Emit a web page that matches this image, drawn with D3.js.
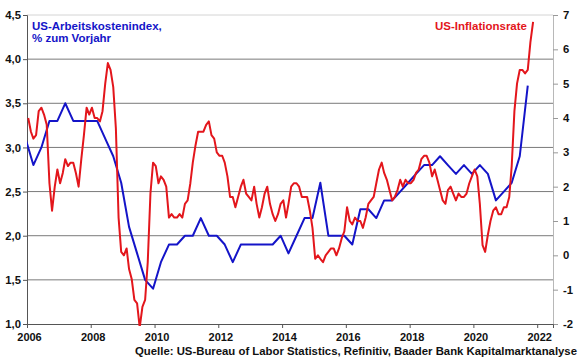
<!DOCTYPE html>
<html>
<head>
<meta charset="utf-8">
<script src="https://cdn.jsdelivr.net/npm/d3@7/dist/d3.min.js"></script>
<style>
  html, body { margin: 0; padding: 0; background: #fff; }
  svg { display: block; font-family: Arial, "Liberation Sans", sans-serif; }
</style>
</head>
<body>
<svg id="chart" width="580" height="359"></svg>
<script>
// ---- Data ----
// US employment cost index, % yoy, quarterly, first quarter: Q4 2005
const ecoStart = [2005, 12];
const ecoValues = [3.1, 2.8, 3.0, 3.3, 3.3, 3.5, 3.3, 3.3, 3.3, 3.3, 3.1, 2.9, 2.6, 2.1, 1.8, 1.5,
  1.4, 1.7, 1.9, 1.9, 2.0, 2.0, 2.2, 2.0, 2.0, 1.9, 1.7, 1.9, 1.9, 1.9, 1.9, 1.9,
  2.0, 1.8, 2.0, 2.2, 2.2, 2.6, 2.0, 2.0, 2.0, 1.9, 2.3, 2.3, 2.2, 2.4, 2.4, 2.5,
  2.6, 2.7, 2.8, 2.8, 2.9, 2.8, 2.7, 2.8, 2.7, 2.8, 2.7, 2.4, 2.5, 2.6, 2.9, 3.7];

// US inflation rate, % yoy, monthly, first month: Jan 2006
const cpiStart = [2006, 1];
const cpiValues = [
  4.0, 3.6, 3.4, 3.5, 4.2, 4.3, 4.1, 3.8, 2.1, 1.3, 2.0, 2.5,
  2.1, 2.4, 2.8, 2.6, 2.7, 2.7, 2.4, 2.0, 2.8, 3.5, 4.3, 4.1,
  4.3, 4.0, 4.0, 3.9, 4.2, 5.0, 5.6, 5.4, 4.9, 3.7, 1.1, 0.1,
  0.0, 0.2, -0.4, -0.7, -1.3, -1.4, -2.1, -1.5, -1.3, -0.2, 1.8, 2.7,
  2.6, 2.1, 2.3, 2.2, 2.0, 1.1, 1.2, 1.1, 1.1, 1.2, 1.1, 1.5,
  1.6, 2.1, 2.7, 3.2, 3.6, 3.6, 3.6, 3.8, 3.9, 3.5, 3.4, 3.0,
  2.9, 2.9, 2.7, 2.3, 1.7, 1.7, 1.4, 1.7, 2.0, 2.2, 1.8, 1.7,
  1.6, 2.0, 1.5, 1.1, 1.4, 1.8, 2.0, 1.5, 1.2, 1.0, 1.2, 1.5,
  1.6, 1.1, 1.5, 2.0, 2.1, 2.1, 2.0, 1.7, 1.7, 1.7, 1.3, 0.8,
  -0.1, 0.0, -0.1, -0.2, 0.0, 0.1, 0.2, 0.2, 0.0, 0.2, 0.5, 0.7,
  1.4, 1.0, 0.9, 1.1, 1.0, 1.0, 0.8, 1.1, 1.5, 1.6, 1.7, 2.1,
  2.5, 2.7, 2.4, 2.2, 1.9, 1.6, 1.7, 1.9, 2.2, 2.0, 2.2, 2.1,
  2.1, 2.2, 2.4, 2.5, 2.8, 2.9, 2.9, 2.7, 2.3, 2.5, 2.2, 1.9,
  1.6, 1.5, 1.9, 2.0, 1.8, 1.6, 1.8, 1.7, 1.7, 1.8, 2.1, 2.3,
  2.5, 2.3, 1.5, 0.3, 0.1, 0.6, 1.0, 1.3, 1.4, 1.2, 1.2, 1.4,
  1.4, 1.7, 2.6, 4.2, 5.0, 5.4, 5.4, 5.3, 5.4, 6.2, 6.8];

const xTickYears = [2006, 2008, 2010, 2012, 2014, 2016, 2018, 2020, 2022];
const leftTicks = [1.0, 1.5, 2.0, 2.5, 3.0, 3.5, 4.0, 4.5];
const rightTicks = [-2, -1, 0, 1, 2, 3, 4, 5, 6, 7];

const titleLeft = ["US-Arbeitskostenindex,", "% zum Vorjahr"];
const titleRight = "US-Inflationsrate";
const sourceText = "Quelle: US-Bureau of Labor Statistics, Refinitiv, Baader Bank Kapitalmarktanalyse";

// ---- Layout ----
const svg = d3.select("#chart");
const L = 27, R = 553, T = 15, B = 324;
const blue = "#1414c8", red = "#e3161c";

const x = d3.scaleTime()
  .domain([new Date(2006, 0, 1), new Date(2022, 6, 1)])
  .range([L, R]);
const yL = d3.scaleLinear().domain([1.0, 4.5]).range([B, T]);
const yR = d3.scaleLinear().domain([-2, 7]).range([B, T]);

// mid-month date for a [year, month] start offset by n months
const monthDate = (start, n) => new Date(start[0], start[1] - 1 + n, 15);

const ecoData = ecoValues.map((v, i) => ({ d: monthDate(ecoStart, i * 3), v }));
const cpiData = cpiValues.map((v, i) => ({ d: monthDate(cpiStart, i), v }));

// gridlines
svg.append("g").selectAll("line")
  .data(leftTicks.filter(t => t > 1.0 && t < 4.5))
  .join("line")
  .attr("x1", L).attr("x2", R)
  .attr("y1", d => yL(d)).attr("y2", d => yL(d))
  .attr("stroke", "#7a7a7a").attr("stroke-width", 1);
// top border line (light)
svg.append("line")
  .attr("x1", L).attr("x2", R).attr("y1", yL(4.5)).attr("y2", yL(4.5))
  .attr("stroke", "#d4d4d4").attr("stroke-width", 1);

// clip
svg.append("clipPath").attr("id", "plot")
  .append("rect").attr("x", L).attr("y", 0).attr("width", R - L).attr("height", B + 2);

const fmt = d3.formatLocale({ decimal: ",", thousands: ".", grouping: [3], currency: ["", "€"] }).format(".1f");

// left axis
const gL = svg.append("g").attr("transform", `translate(${L},0)`)
  .call(d3.axisLeft(yL).tickValues(leftTicks).tickFormat(fmt).tickSize(4).tickPadding(2));
gL.select(".domain").attr("stroke", "#555");
gL.selectAll(".tick line").attr("stroke", "#555");
gL.selectAll("text").attr("font-size", "11.3px").attr("font-weight", "bold").attr("fill", "#111")
  .attr("font-family", "Arial, 'Liberation Sans', sans-serif");

// right axis
const gR = svg.append("g").attr("transform", `translate(${R},0)`)
  .call(d3.axisRight(yR).tickValues(rightTicks).tickFormat(d3.format("d")).tickSize(5).tickPadding(5));
gR.select(".domain").attr("stroke", "#b8b8b8");
gR.selectAll(".tick line").attr("stroke", "#999");
gR.selectAll("text").attr("font-size", "11.3px").attr("font-weight", "bold").attr("fill", "#111")
  .attr("font-family", "Arial, 'Liberation Sans', sans-serif")
  .text(d => d < 0 ? "-" + Math.abs(d) : d);

// bottom axis
const gB = svg.append("g").attr("transform", `translate(0,${B})`)
  .call(d3.axisBottom(x).tickValues(xTickYears.map(y => new Date(y, 0, 1)))
    .tickFormat(d3.timeFormat("%Y")).tickSize(4).tickPadding(5));
gB.select(".domain").attr("stroke", "#555");
gB.selectAll(".tick line").attr("stroke", "#555");
gB.selectAll("text").attr("font-size", "11px").attr("font-weight", "bold").attr("fill", "#111")
  .attr("font-family", "Arial, 'Liberation Sans', sans-serif")
  .attr("dx", "2px");

// lines
const lineL = d3.line().x(d => x(d.d)).y(d => yL(d.v));
const lineR = d3.line().x(d => x(d.d)).y(d => yR(d.v));

const plot = svg.append("g").attr("clip-path", "url(#plot)");
plot.append("path").datum(ecoData).attr("d", lineL)
  .attr("fill", "none").attr("stroke", blue).attr("stroke-width", 2).attr("stroke-linejoin", "round");
plot.append("path").datum(cpiData).attr("d", lineR)
  .attr("fill", "none").attr("stroke", red).attr("stroke-width", 2).attr("stroke-linejoin", "round");

// titles
const tl = svg.append("text").attr("x", 32).attr("y", 30)
  .attr("font-size", "11.5px").attr("font-weight", "bold").attr("fill", blue);
tl.selectAll("tspan").data(titleLeft).join("tspan")
  .attr("x", 32).attr("dy", (d, i) => i === 0 ? 0 : 12.2).text(d => d);

svg.append("text").attr("x", 527).attr("y", 30).attr("text-anchor", "end")
  .attr("font-size", "11.5px").attr("font-weight", "bold").attr("fill", red)
  .text(titleRight);

svg.append("text").attr("x", 577).attr("y", 355).attr("text-anchor", "end")
  .attr("font-size", "11px").attr("font-weight", "bold").attr("fill", "#111")
  .attr("textLength", 442).attr("lengthAdjust", "spacingAndGlyphs")
  .text(sourceText);
</script>
</body>
</html>
